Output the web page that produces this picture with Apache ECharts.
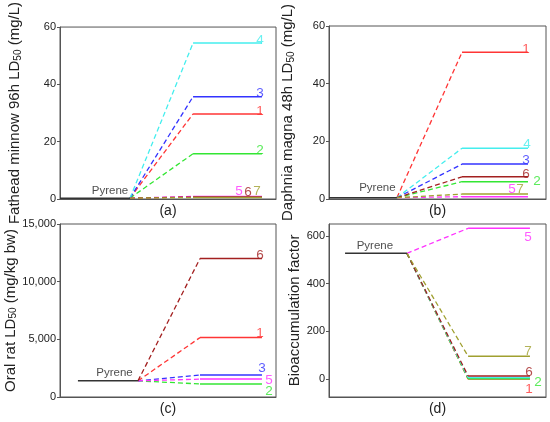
<!DOCTYPE html>
<html><head><meta charset="utf-8">
<script src="https://cdn.jsdelivr.net/npm/echarts@6/dist/echarts.min.js"></script>
<style>html,body{margin:0;padding:0;background:#fff}#c{width:550px;height:422px}</style>
</head><body><div id="c"></div>
<script>
// ---- data ----
const derivNames = ['1','2','3','4','5','6','7'];
const derivColors = ['#ff3535','#33e633','#3333ff','#44eeee','#ff33ff','#a32020','#a0a030'];

const fatheadPyrene = 0.3;
const fathead = [29.7, 15.8, 35.7, 54.4, 0.9, 0.7, 0.5];

const daphniaPyrene = 0.45;
const daphnia = [50.9, 6.0, 12.1, 17.6, 0.8, 7.7, 1.7];

const ratPyrene = 1400;
const rat = [5150, 1130, 1900, null, 1550, 12000, null];

const bcfPyrene = 527;
const bcf = [0, 2, null, 7, 632, 13, 96];

// x stations: pyrene start, pyrene end, derivative start, derivative end
const xsA = [0, 3.24, 6.16, 9.35];
const xsB = [0, 3.13, 6.13, 9.17];
const xsC = [0.83, 3.61, 6.48, 9.35];
const xsD = [0.74, 3.59, 6.41, 9.26];

const yTicksD = [0, 200, 400, 600];

// label offsets (px) relative to segment end
const offA = {1:[-2,-3],2:[-2,-3],3:[-2,-3],4:[-2,-3],5:[-23,-5],6:[-14,-5],7:[-5,-6]};
const offB = {1:[-2,-3],2:[9,0],3:[-2,-4],4:[-1,-4],5:[-16,-7],6:[-2,-3],7:[-8,-5]};
const offC = {1:[-2,-4],2:[7,7],3:[0,-7],5:[7,1],6:[-2,-3]};
const offD = {1:[-1,10],2:[8,4],5:[-2,9],6:[-1,-4],7:[-2,-5]};
const pyrOff = [[-20,-7],[-19.5,-9.5],[-23.5,-8],[-32,-8]];

const FONT = 'Liberation Sans, Arial, sans-serif';
const AX = '#555';

const series = [];
function addPanel(k, pyr, vals, xs, offs) {
  series.push({type:'line', xAxisIndex:k, yAxisIndex:k, symbol:'none', silent:true,
    data:[[xs[0],pyr],[xs[1],pyr]], lineStyle:{color:'#333', width:1.5}, z:3});
  series.push({type:'scatter', xAxisIndex:k, yAxisIndex:k, symbolSize:1, silent:true,
    itemStyle:{color:'rgba(0,0,0,0)'}, data:[[xs[1],pyr]], z:10,
    label:{show:true, position:'inside', offset:pyrOff[k], formatter:'Pyrene',
      color:'#222', fontSize:11.5, fontFamily:FONT}});
  vals.forEach((v,i)=>{
    if (v === null) return;
    const col = derivColors[i];
    series.push({type:'line', xAxisIndex:k, yAxisIndex:k, symbol:'none', silent:true,
      data:[[xs[1],pyr],[xs[2],v]], lineStyle:{color:col, width:1.3, type:[5,3]}, z:2});
    series.push({type:'line', xAxisIndex:k, yAxisIndex:k, symbol:'none', silent:true,
      data:[[xs[2],v],[xs[3],v]], lineStyle:{color:col, width:1.5}, z:2});
    const o = offs[derivNames[i]];
    if (o) {
      series.push({type:'scatter', xAxisIndex:k, yAxisIndex:k, symbolSize:1, silent:true,
        itemStyle:{color:'rgba(0,0,0,0)'}, data:[[xs[3],v]], z:10,
        label:{show:true, position:'inside', offset:o, formatter:derivNames[i],
          color:col, fontSize:13.5, fontFamily:FONT}});
    }
  });
}
addPanel(0, fatheadPyrene, fathead, xsA, offA);
addPanel(1, daphniaPyrene, daphnia, xsB, offB);
addPanel(2, ratPyrene, rat, xsC, offC);
addPanel(3, bcfPyrene, bcf, xsD, offD);

const grids = [
  {left:60, top:26, width:216, height:173},
  {left:329, top:26, width:217, height:173},
  {left:60, top:224, width:216, height:173},
  {left:329, top:224, width:217, height:173}
].map(g=>Object.assign(g,{show:true, borderColor:AX, borderWidth:1, backgroundColor:'transparent'}));

const panelNames = ['(a)','(b)','(c)','(d)'];
const xAxes = panelNames.map((n,k)=>({type:'value', gridIndex:k, min:0, max:10,
  axisLine:{show:true, onZero:false, lineStyle:{color:AX}}, axisTick:{show:false}, axisLabel:{show:false},
  splitLine:{show:false}, name:n, nameLocation:'middle', nameGap:5,
  nameTextStyle:{fontSize:14, color:'#222', fontFamily:FONT, verticalAlign:'top'}}));

const richName = {
  a:{fontSize:15, fontFamily:FONT, color:'#222'},
  s:{fontSize:10, fontFamily:FONT, color:'#222', padding:[6,0,0,0]}
};
function yAx(k, name, gap, extra) {
  return Object.assign({type:'value', gridIndex:k,
    axisLine:{show:true, onZero:false, lineStyle:{color:AX}},
    axisTick:{show:true, inside:false, length:3, lineStyle:{color:AX}},
    axisLabel:{fontSize:11, color:'#222', fontFamily:FONT, margin:4},
    splitLine:{show:false}, name:name, nameLocation:'middle', nameRotate:90, nameGap:gap,
    nameTextStyle:{rich:richName}}, extra);
}
const yAxes = [
  yAx(0, '{a|Fathead minnow 96h LD}{s|50}{a| (mg/L)}', 37, {min:0, max:60, interval:20}),
  yAx(1, '{a|Daphnia magna 48h LD}{s|50}{a| (mg/L)}', 33, {min:0, max:60, interval:20}),
  yAx(2, '{a|Oral rat LD}{s|50}{a| (mg/kg bw)}', 37, {min:0, max:15000, interval:5000,
     axisLabel:{fontSize:11, color:'#222', fontFamily:FONT, margin:4,
       formatter:v=>v.toLocaleString('en-US')}}),
  yAx(3, '{a|Bioaccumulation factor}', 26, {min:-75, max:650,
     axisLabel:{fontSize:11, color:'#222', fontFamily:FONT, margin:4, customValues:yTicksD},
     axisTick:{show:true, length:3, lineStyle:{color:AX}, customValues:yTicksD}})
];

const chart = echarts.init(document.getElementById('c'), null, {renderer:'canvas'});
chart.setOption({animation:false, backgroundColor:'#fff', grid:grids, xAxis:xAxes, yAxis:yAxes, series:series});
</script></body></html>
